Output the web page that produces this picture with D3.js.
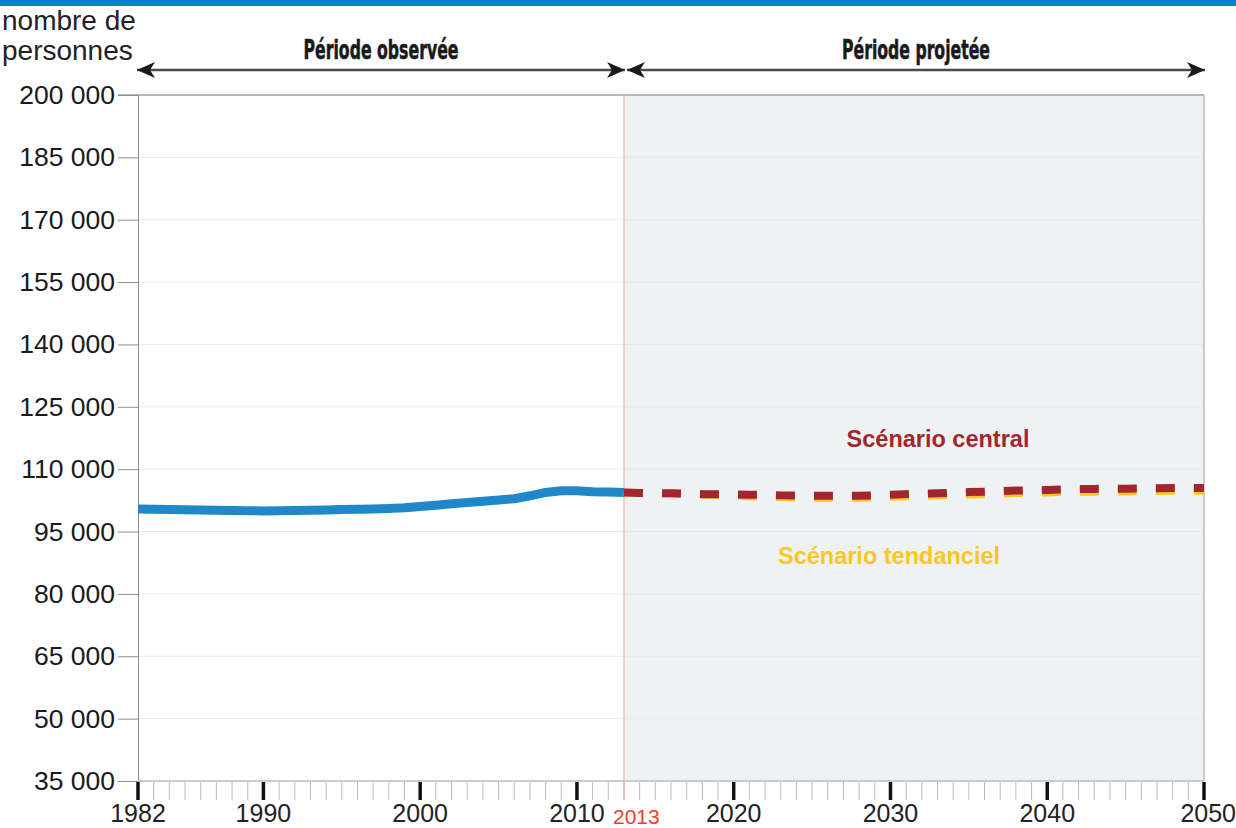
<!DOCTYPE html>
<html>
<head>
<meta charset="utf-8">
<script src="https://cdn.jsdelivr.net/npm/d3@7"></script>
<style>
  body { margin: 0; background: #fff; }
  svg { display: block; font-family: "Liberation Sans", Arial, sans-serif; }
</style>
</head>
<body>
<svg id="chart" width="1236" height="828"></svg>
<script>
"use strict";

// observed population (persons), 1982-2013
const OBS_YEARS = d3.range(1982, 2014);
const OBS_VALUES = [
  100400, 100350, 100300, 100250, 100200, 100100, 100050, 100000, 99950, 100000,
  100050, 100100, 100200, 100300, 100350, 100450, 100550, 100700, 101000, 101350,
  101700, 102000, 102300, 102600, 102900, 103600, 104400, 104800, 104800, 104600,
  104500, 104400
];

// projections, 2013-2050
const PROJ_YEARS = d3.range(2013, 2051);
const CENTRAL_VALUES = [
  104400, 104300, 104250, 104200, 104100, 104000, 104000, 103900, 103850, 103800,
  103700, 103650, 103600, 103600, 103600, 103600, 103700, 103850, 104000, 104100,
  104200, 104350, 104500, 104600, 104700, 104850, 104950, 105000, 105100, 105200,
  105250, 105300, 105300, 105350, 105400, 105450, 105500, 105500
];
const TREND_VALUES = [
  104400, 104300, 104200, 104150, 104000, 103900, 103800, 103650, 103500, 103400,
  103300, 103200, 103100, 103100, 103100, 103100, 103200, 103350, 103500, 103600,
  103700, 103800, 103900, 104000, 104100, 104250, 104350, 104400, 104500, 104550,
  104600, 104650, 104650, 104700, 104750, 104800, 104800, 104800
];

const Y_TICKS = d3.range(35000, 200001, 15000);
const X_MAJOR = [1982, 1990, 2000, 2010, 2020, 2030, 2040, 2050];
const SPLIT_YEAR = 2013;

const COLORS = {
  observed: "#1e88c8",
  central: "#a3262e",
  trend: "#f9c623",
  split: "#f4a594",
  band: "#0a7fc2",
  projBg: "#eef2f3"
};

const svg = d3.select("#chart");
const plotLeft = 138, plotRight = 1204, plotTop = 95, plotBottom = 781;

const x = d3.scaleLinear().domain([1982, 2050]).range([plotLeft, plotRight]);
const y = d3.scaleLinear().domain([35000, 200000]).range([plotBottom, plotTop]);

const frLocale = d3.formatLocale({ decimal: ",", thousands: " ", grouping: [3], currency: ["", ""] });
const fmt = frLocale.format(",");

// top band
svg.append("rect").attr("x", 0).attr("y", 0).attr("width", 1236).attr("height", 6).attr("fill", COLORS.band);

// projected period background
svg.append("rect")
  .attr("x", x(SPLIT_YEAR)).attr("y", plotTop)
  .attr("width", x(2050) - x(SPLIT_YEAR)).attr("height", plotBottom - plotTop)
  .attr("fill", COLORS.projBg);

// gridlines
svg.append("g")
  .selectAll("line")
  .data(Y_TICKS.filter(d => d !== 35000 && d !== 200000))
  .join("line")
  .attr("x1", plotLeft).attr("x2", plotRight)
  .attr("y1", d => y(d)).attr("y2", d => y(d))
  .attr("stroke", "#e6eaec").attr("stroke-width", 1);

// frame
svg.append("line").attr("x1", 118).attr("x2", plotRight).attr("y1", plotTop).attr("y2", plotTop)
  .attr("stroke", "#b5bcc0").attr("stroke-width", 2);
svg.append("line").attr("x1", plotRight).attr("x2", plotRight).attr("y1", plotTop).attr("y2", plotBottom)
  .attr("stroke", "#9aa0a4").attr("stroke-width", 1);

// y axis
const yAxis = d3.axisLeft(y).tickValues(Y_TICKS).tickFormat(fmt).tickSize(20).tickPadding(3);
const gy = svg.append("g").attr("transform", `translate(${plotLeft},0)`).call(yAxis);
gy.select(".domain").attr("stroke", "#8a8f93");
gy.selectAll(".tick line").attr("stroke", "#8a8f93");
gy.selectAll(".tick text")
  .attr("font-size", 26.5).attr("fill", "#1a1a1a")
  .attr("font-family", "Liberation Sans, Arial, sans-serif");

// x axis: minor ticks every year
const gx = svg.append("g").attr("transform", `translate(0,${plotBottom})`);
gx.append("line").attr("x1", plotLeft).attr("x2", plotRight).attr("y1", 0).attr("y2", 0)
  .attr("stroke", "#b5bcc0").attr("stroke-width", 1.5);
gx.selectAll(".minor")
  .data(d3.range(1982, 2051).filter(d => !X_MAJOR.includes(d)))
  .join("line")
  .attr("class", "minor")
  .attr("x1", d => x(d)).attr("x2", d => x(d))
  .attr("y1", 1).attr("y2", 19)
  .attr("stroke", "#b9bcbe").attr("stroke-width", 1);
gx.selectAll(".major")
  .data(X_MAJOR)
  .join("line")
  .attr("class", "major")
  .attr("x1", d => x(d)).attr("x2", d => x(d))
  .attr("y1", 1).attr("y2", 19)
  .attr("stroke", "#111").attr("stroke-width", 3.5);
gx.selectAll(".xlab")
  .data(X_MAJOR)
  .join("text")
  .attr("class", "xlab")
  .attr("x", d => x(d)).attr("y", 41)
  .attr("text-anchor", d => d === 2050 ? "end" : "middle")
  .attr("dx", d => d === 2050 ? 32 : 0)
  .attr("font-size", 25).attr("fill", "#222")
  .text(d => d);

// 2013 split line and label
svg.append("line")
  .attr("x1", x(SPLIT_YEAR)).attr("x2", x(SPLIT_YEAR))
  .attr("y1", plotTop).attr("y2", plotBottom + 19)
  .attr("stroke", COLORS.split).attr("stroke-width", 1);
svg.append("text")
  .attr("x", x(SPLIT_YEAR) - 11).attr("y", 824)
  .attr("font-size", 21).attr("fill", "#e8412c")
  .text(SPLIT_YEAR);

// series
const line = d3.line().x(d => x(d[0])).y(d => y(d[1])).curve(d3.curveLinear);

svg.append("path")
  .datum(d3.zip(OBS_YEARS, OBS_VALUES))
  .attr("d", line)
  .attr("fill", "none").attr("stroke", COLORS.observed)
  .attr("stroke-width", 9).attr("stroke-linejoin", "round");

svg.append("path")
  .datum(d3.zip(PROJ_YEARS, TREND_VALUES))
  .attr("d", line)
  .attr("fill", "none").attr("stroke", COLORS.trend)
  .attr("stroke-width", 8).attr("stroke-dasharray", "19,19");

svg.append("path")
  .datum(d3.zip(PROJ_YEARS, CENTRAL_VALUES))
  .attr("d", line)
  .attr("fill", "none").attr("stroke", COLORS.central)
  .attr("stroke-width", 8).attr("stroke-dasharray", "19,19");

// scenario labels
svg.append("text")
  .attr("x", 938).attr("y", 447).attr("text-anchor", "middle")
  .attr("font-size", 23.5).attr("font-weight", "bold").attr("fill", COLORS.central)
  .text("Scénario central");
svg.append("text")
  .attr("x", 889).attr("y", 564).attr("text-anchor", "middle")
  .attr("font-size", 23.5).attr("font-weight", "bold").attr("fill", COLORS.trend)
  .text("Scénario tendanciel");

// y-axis title
svg.append("text").attr("x", 2).attr("y", 30).attr("font-size", 28).attr("fill", "#222").text("nombre de");
svg.append("text").attr("x", 2).attr("y", 60).attr("font-size", 28).attr("fill", "#222").text("personnes");

// period arrows
const defs = svg.append("defs");
defs.append("marker")
  .attr("id", "head")
  .attr("viewBox", "0 0 18 16")
  .attr("refX", 18).attr("refY", 8)
  .attr("markerWidth", 18).attr("markerHeight", 16)
  .attr("markerUnits", "userSpaceOnUse")
  .attr("orient", "auto-start-reverse")
  .append("path")
  .attr("d", "M0,0 L18,8 L0,16 L5,8 Z")
  .attr("fill", "#1a1a1a");

const periods = [
  { label: "Période observée", x0: plotLeft - 1, x1: x(SPLIT_YEAR) + 1, w: 155 },
  { label: "Période projetée", x0: x(SPLIT_YEAR) + 3, x1: plotRight + 1, w: 148 }
];

periods.forEach(p => {
  svg.append("line")
    .attr("x1", p.x0).attr("x2", p.x1).attr("y1", 70).attr("y2", 70)
    .attr("stroke", "#4a4a4a").attr("stroke-width", 2.5)
    .attr("marker-start", "url(#head)").attr("marker-end", "url(#head)");
  svg.append("text")
    .attr("x", (p.x0 + p.x1) / 2 - p.w / 2).attr("y", 59)
    .attr("font-size", 26).attr("font-weight", "bold")
    .attr("font-family", "DejaVu Sans, sans-serif")
    .attr("stroke", "#1a1a1a").attr("stroke-width", 0.6)
    .attr("textLength", p.w).attr("lengthAdjust", "spacingAndGlyphs")
    .attr("fill", "#1a1a1a")
    .text(p.label);
});
</script>
</body>
</html>
